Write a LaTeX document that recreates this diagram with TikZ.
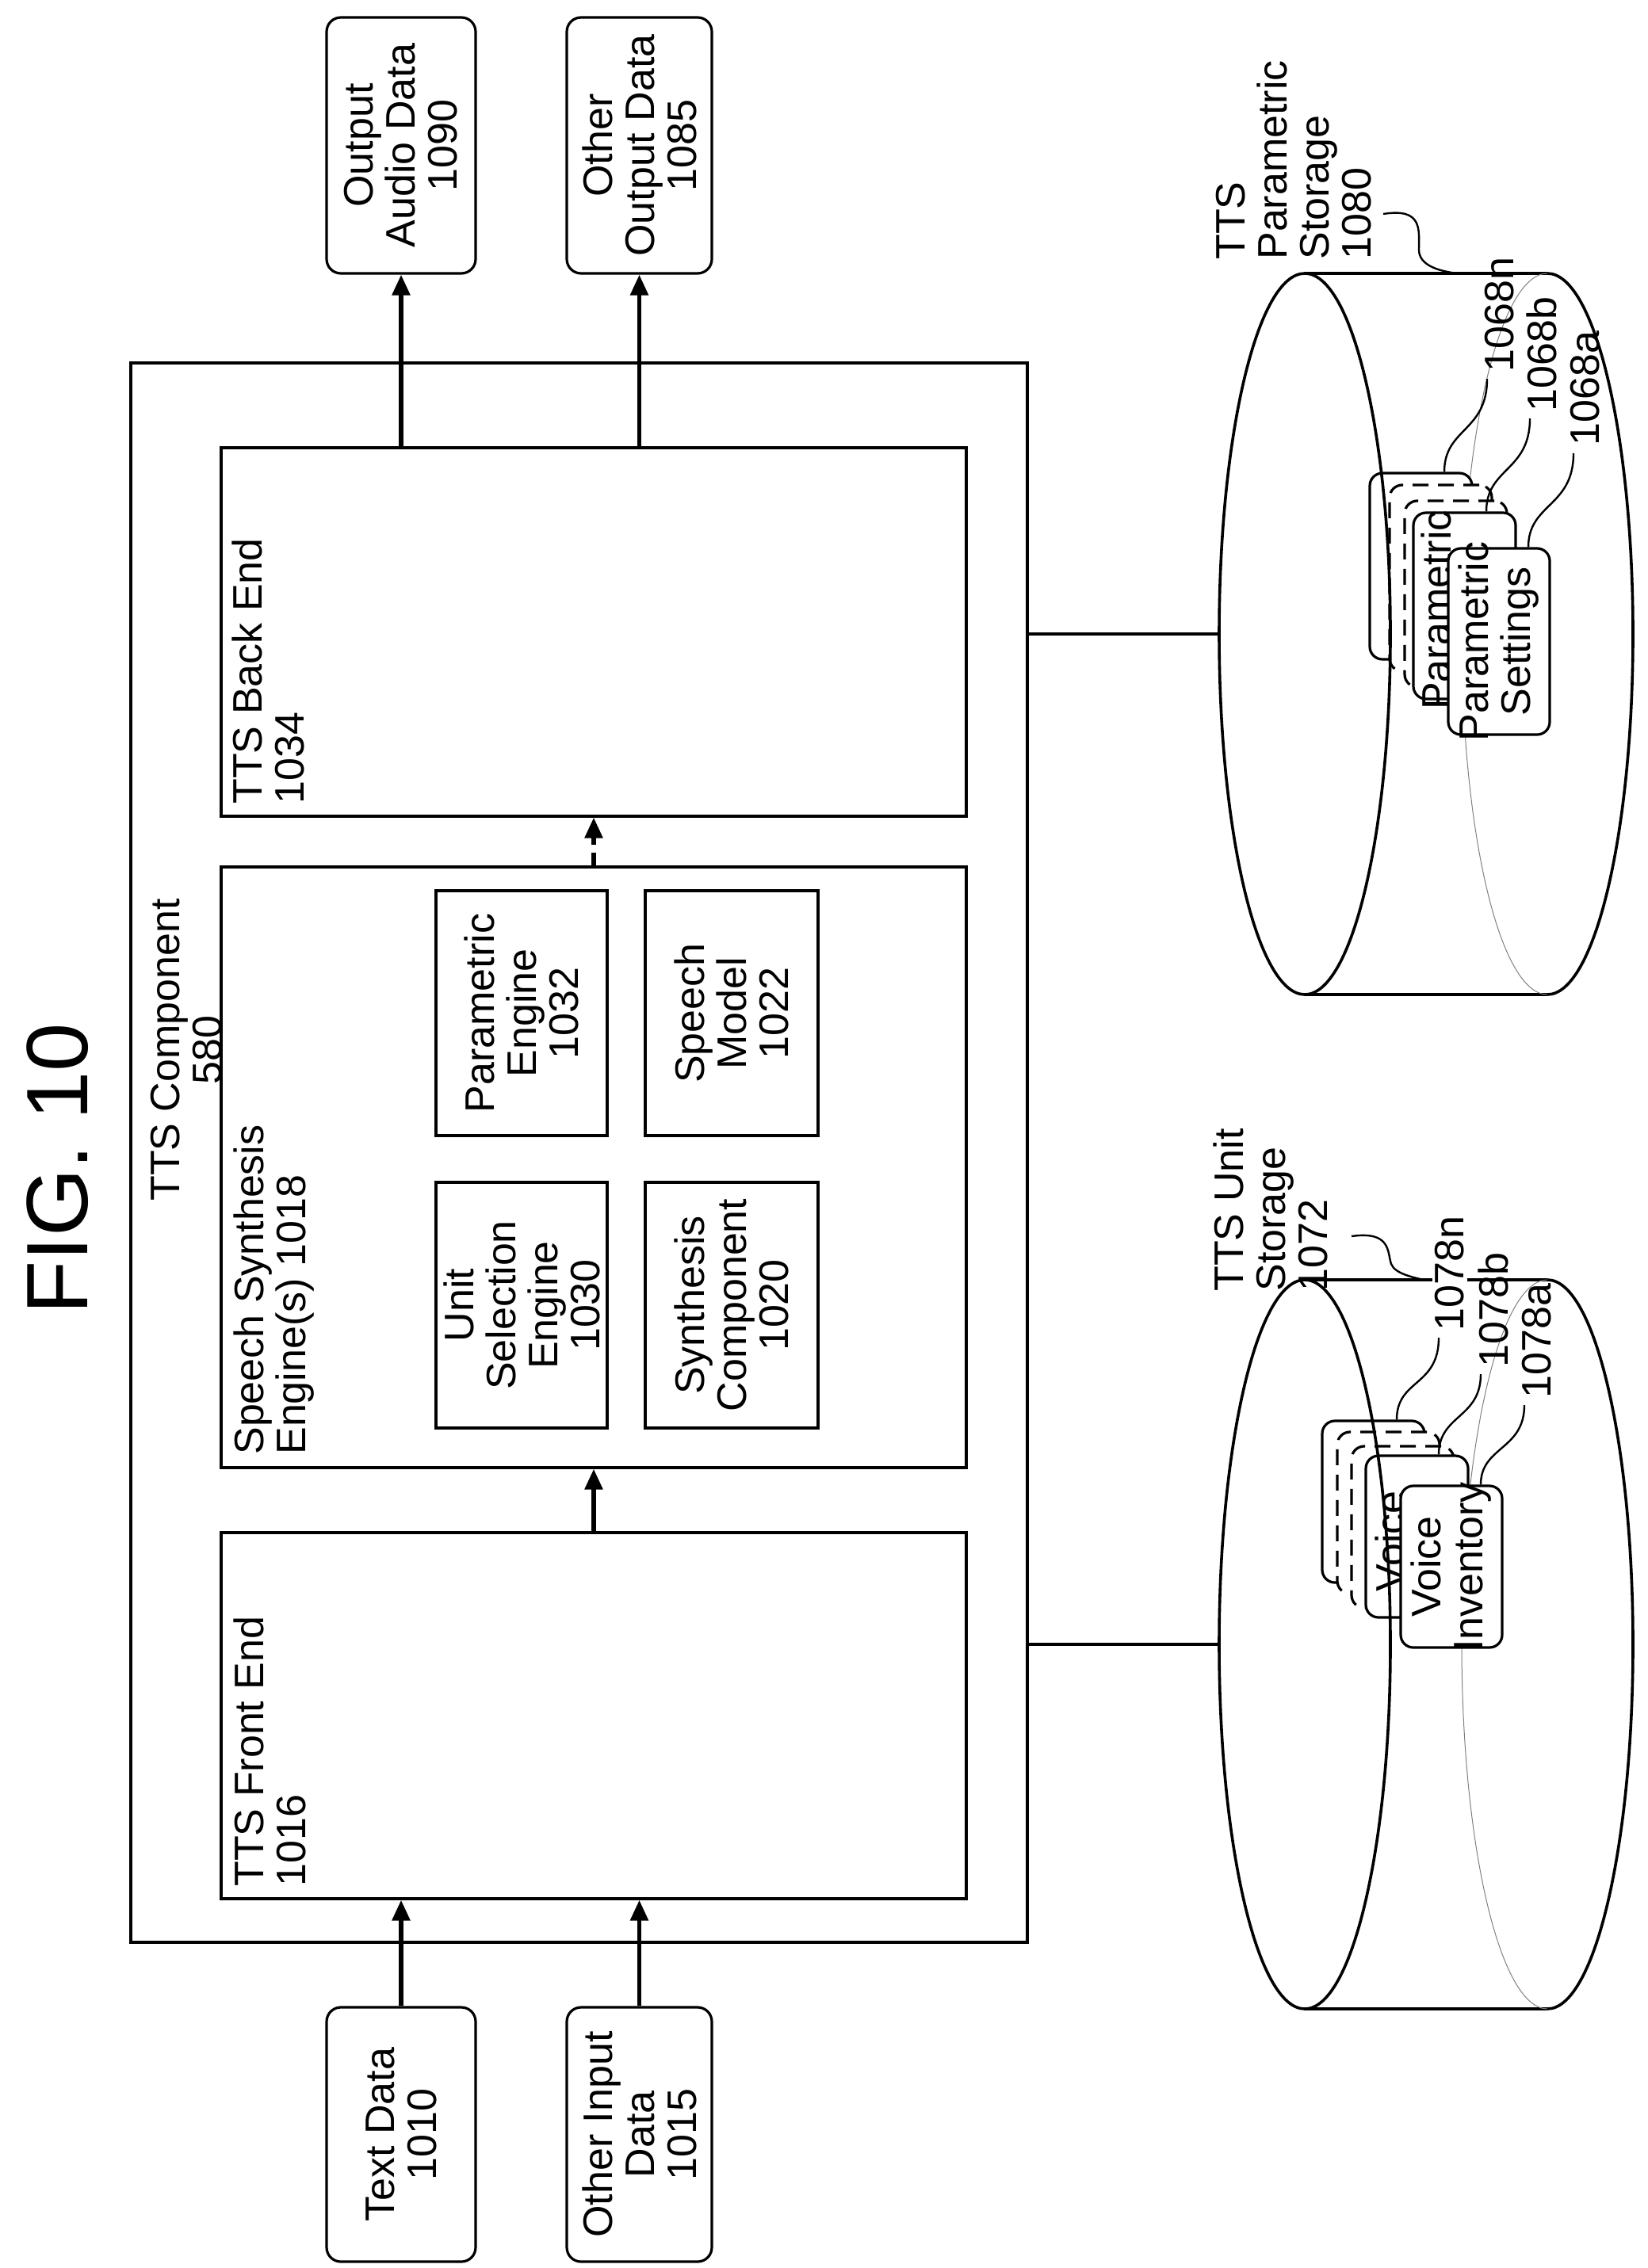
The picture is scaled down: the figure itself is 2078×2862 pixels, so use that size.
\documentclass[tikz,border=0pt]{standalone}
\usepackage{fontspec}
\setmainfont{Liberation Sans}
\usetikzlibrary{arrows.meta}
\begin{document}
\begin{tikzpicture}[x=0.5pt,y=-0.5pt,
  box/.style={draw,line width=1.6pt,inner sep=0pt},
  rbox/.style={box,rounded corners=9pt,fill=white},
  txt/.style={rotate=90,align=center,font=\fontsize{26}{26.5}\selectfont,inner sep=1pt},
  ltxt/.style={rotate=90,align=left,font=\fontsize{26}{26.5}\selectfont,inner sep=1pt},
  arr/.style={line width=2.8pt,-{Triangle[length=13pt,width=11pt]}},
  ln/.style={line width=1.8pt},
  card/.style={draw,line width=1.6pt,rounded corners=8pt,fill=white}]
\useasboundingbox (0,0) rectangle (2078,2862);
\node[rotate=90,font=\fontsize{55}{55}\selectfont] (fig) at (73,1475) {FIG. 10};
% main boxes
\node[box,minimum width=565.5pt,minimum height=996.5pt] (outer) at (730.5,1454.5) {};
\node[box,minimum width=470pt,minimum height=232.5pt] (be) at (749,797.5) {};
\node[box,minimum width=470pt,minimum height=379pt] (sse) at (749,1473) {};
\node[box,minimum width=470pt,minimum height=231pt] (fe) at (749,2165) {};
\node[ltxt,anchor=north west] (bel) at (290,1017) {TTS Back End\\1034};
\node[ltxt,anchor=north west] (ssel) at (292,1838) {Speech Synthesis\\Engine(s) 1018};
\node[ltxt,anchor=north west] (fel) at (292,2383) {TTS Front End\\1016};
\node[txt,anchor=north] (outl) at (188,1325) {TTS Component\\580};
\node[box,minimum width=108pt,minimum height=155pt] (use) at (658,1647) {};
\node[txt] at (use) {Unit\\Selection\\Engine\\1030};
\node[box,minimum width=108pt,minimum height=154.5pt] (pe) at (658,1278.5) {};
\node[txt] at (pe) {Parametric\\Engine\\1032};
\node[box,minimum width=109pt,minimum height=155pt] (sc) at (923,1647) {};
\node[txt] at (sc) {Synthesis\\Component\\1020};
\node[box,minimum width=109pt,minimum height=154.5pt] (sm) at (923,1278.5) {};
\node[txt] at (sm) {Speech\\Model\\1022};
% io
\node[rbox,minimum width=94pt,minimum height=161.5pt] (oa) at (506,183.5) {};
\node[txt] at (oa) {Output\\Audio Data\\1090};
\node[rbox,minimum width=91.5pt,minimum height=161.5pt] (oo) at (806.5,183.5) {};
\node[txt] at (oo) {Other\\Output Data\\1085};
\node[rbox,minimum width=94pt,minimum height=160.5pt] (td) at (506,2693.5) {};
\node[txt] at (td) {Text Data\\1010};
\node[rbox,minimum width=91.5pt,minimum height=160.5pt] (oi) at (806.5,2693.5) {};
\node[txt] at (oi) {Other Input\\Data\\1015};
\draw[arr] (td.north) -- (td.north |- fe.south);
\draw[arr] (oi.north) -- (oi.north |- fe.south);
\draw[arr] (oa.south |- be.north) -- (oa.south);
\draw[arr] (oo.south |- be.north) -- (oo.south);
\draw[arr] (fe.north) -- (sse.south);
\draw[arr,dash pattern=on 8pt off 5pt] (sse.north) -- (be.south);
% cylinders
\coordinate (pL) at (1538,800);
\coordinate (vL) at (1538,2075);
\draw[ln] (outer.east |- pL) -- (pL);
\draw[ln] (outer.east |- vL) -- (vL);
\draw[ln] (1646,345) -- (1952,345) arc[start angle=-90,end angle=90,x radius=108,y radius=455] -- (1646,1255);
\draw[gray,line width=0.5pt] (1952,345) arc[start angle=-90,end angle=-270,x radius=108,y radius=455];
\draw[ln] (1646,1615) -- (1952,1615) arc[start angle=-90,end angle=90,x radius=108,y radius=460] -- (1646,2535);
\draw[gray,line width=0.5pt] (1952,1615) arc[start angle=-90,end angle=-270,x radius=108,y radius=460];
% storage labels
\node[ltxt,anchor=north west] (psl) at (1532,330) {TTS\\Parametric\\Storage\\1080};
\draw[line width=1.2pt] (1745,270) .. controls (1795,262) and (1790,290) .. (1790,315) .. controls (1790,335) and (1815,342) .. (1838,345);
\node[ltxt,anchor=north west] (vsl) at (1528,1632) {TTS Unit\\Storage\\1072};
\draw[line width=1.2pt] (1705,1560) .. controls (1755,1553) and (1750,1580) .. (1755,1595) .. controls (1760,1608) and (1785,1612) .. (1795,1615);
% parametric cards
\node[card,minimum width=64.5pt,minimum height=117.5pt] (p1) at (1792.5,714.5) {};
\node[card,dash pattern=on 10pt off 6pt,minimum width=64.5pt,minimum height=117.5pt] (p2) at (1817.5,729.5) {};
\node[card,dash pattern=on 10pt off 6pt,minimum width=64.5pt,minimum height=117.5pt] (p3) at (1836.5,749.5) {};
\node[card,minimum width=64.5pt,minimum height=117.5pt] (pb) at (1847.5,764.5) {};
\node[ltxt,anchor=north] at (1790,770) {Parametric};
\node[card,minimum width=64pt,minimum height=117.5pt] (pa) at (1891,809.5) {};
\node[txt] at (pa) {Parametric\\Settings};
% voice cards
\node[card,minimum width=64.5pt,minimum height=102pt] (v1) at (1732.5,1895) {};
\node[card,dash pattern=on 10pt off 6pt,minimum width=64.5pt,minimum height=102pt] (v2) at (1751.5,1909) {};
\node[card,dash pattern=on 10pt off 6pt,minimum width=64.5pt,minimum height=102pt] (v3) at (1769.5,1927) {};
\node[card,minimum width=64.5pt,minimum height=102pt] (vb) at (1787.5,1939) {};
\node[ltxt,anchor=north] at (1732,1945) {Voice};
\node[card,minimum width=64pt,minimum height=102pt] (va) at (1831,1977) {};
\node[txt] at (va) {Voice\\Inventory};
% front ellipses
\draw[ln] (1646,800) ellipse[x radius=108,y radius=455];
\draw[ln] (1646,2075) ellipse[x radius=108,y radius=460];
% card labels
\node[ltxt,anchor=west] (l68n) at (1892,472) {1068n};
\node[ltxt,anchor=west] (l68b) at (1945,522) {1068b};
\node[ltxt,anchor=west] (l68a) at (2000,565) {1068a};
\draw[line width=1.2pt] (1876,478) .. controls (1876,545) and (1822,540) .. (p1.north -| 1822,0);
\draw[line width=1.2pt] (1930,528) .. controls (1930,595) and (1875,590) .. (pb.north -| 1875,0);
\draw[line width=1.2pt] (1985,572) .. controls (1985,640) and (1928,635) .. (pa.north -| 1928,0);
\node[ltxt,anchor=west,fill=white,inner sep=2pt] (l78n) at (1829,1684) {1078n};
\node[ltxt,anchor=west] (l78b) at (1884,1728) {1078b};
\node[ltxt,anchor=west] (l78a) at (1939,1767) {1078a};
\draw[line width=1.2pt] (1815,1688) .. controls (1815,1750) and (1762,1740) .. (v1.north -| 1762,0);
\draw[line width=1.2pt] (1868,1734) .. controls (1868,1790) and (1815,1785) .. (vb.north -| 1815,0);
\draw[line width=1.2pt] (1923,1773) .. controls (1923,1830) and (1868,1825) .. (va.north -| 1868,0);
\end{tikzpicture}
\end{document}
